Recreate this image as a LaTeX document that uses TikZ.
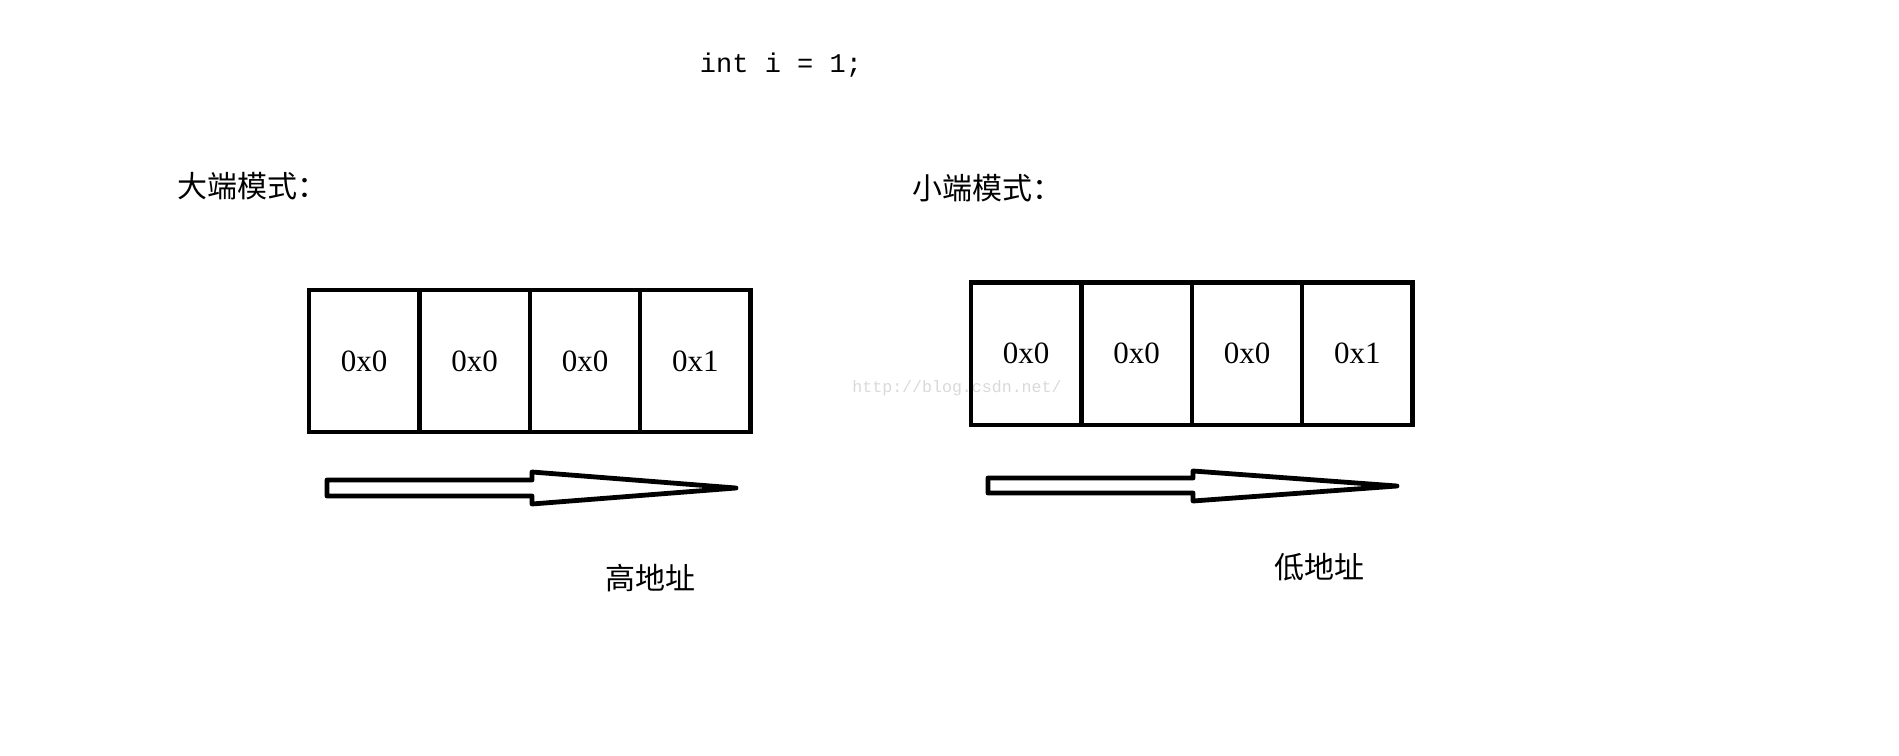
\documentclass[tikz,border=0pt]{standalone}
\usepackage{fontspec}
\setmainfont{Liberation Serif}
\setmonofont{Liberation Mono}
\newfontfamily\cjk{Noto Sans CJK SC}
\usetikzlibrary{positioning}

\begin{document}
\begin{tikzpicture}[x=0.5pt, y=-0.5pt, node distance=0pt,
    cell/.style={rectangle, draw, line width=2.2pt, minimum width=55.2pt, minimum height=71.2pt, inner sep=0pt, outer sep=0pt, font=\fontsize{15.5}{18}\selectfont},
    title/.style={inner sep=0pt, font=\cjk\fontsize{15}{18}\selectfont},
    fatarrow/.style={draw, line width=2.4pt, line join=round}]
    \useasboundingbox (0,0) rectangle (1899,755);

    % Watermark
    \node (mark) [text=gray!30, font=\ttfamily\fontsize{8.3}{10}\selectfont] at (957,388) {http://blog.csdn.net/};

    % Nodes
    \node (decl) [font=\ttfamily\fontsize{13.5}{16}\selectfont] at (781,65) {int i = 1;};
    \node (bigtitle) [title, anchor=west] at (177,186) {大端模式：};
    \node (littletitle) [title, anchor=west] at (912,188) {小端模式：};

    \node (big0) [cell] at (364.2,361) {0x0};
    \node (big1) [cell, right=of big0] {0x0};
    \node (big2) [cell, right=of big1] {0x0};
    \node (big3) [cell, right=of big2] {0x1};

    \node (little0) [cell] at (1026.2,353.5) {0x0};
    \node (little1) [cell, right=of little0] {0x0};
    \node (little2) [cell, right=of little1] {0x0};
    \node (little3) [cell, right=of little2] {0x1};

    % Arrows
    \draw[fatarrow] (327,480) -- (532,480) -- (532,472) -- (736,488) -- (532,504) -- (532,496) -- (327,496) -- cycle;
    \draw[fatarrow] (988,478) -- (1193,478) -- (1193,471) -- (1397,486) -- (1193,501) -- (1193,493) -- (988,493) -- cycle;

    % Labels
    \node (high) [title] at (650,578) {高地址};
    \node (low) [title] at (1319,567) {低地址};
\end{tikzpicture}
\end{document}
